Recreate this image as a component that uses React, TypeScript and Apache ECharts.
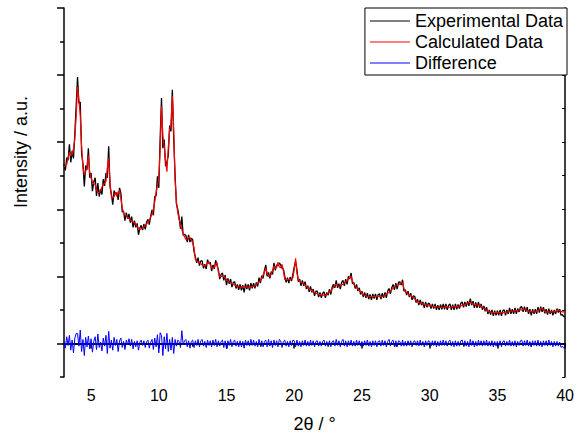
import React, { useEffect, useRef } from "react";
import * as echarts from "echarts";

// 2θ grid of the scan (degrees)
const TWO_THETA_START = 3.0;
const TWO_THETA_STEP = 0.1;

// Calculated profile, one row per degree (3.0–3.9, 4.0–4.9, …, 40.0)
const CALCULATED: number[] = [
  2.63, 2.65, 2.67, 2.76, 2.85, 2.8, 2.82, 2.9, 3.05, 3.4,
  3.82, 3.62, 3.4, 2.95, 2.62, 2.52, 2.56, 2.64, 2.8, 2.55,
  2.47, 2.4, 2.38, 2.37, 2.29, 2.25, 2.25, 2.28, 2.33, 2.37,
  2.39, 2.42, 2.62, 2.76, 2.4, 2.18, 2.17, 2.19, 2.25, 2.19,
  2.26, 2.28, 2.16, 2.02, 1.94, 1.92, 1.9, 1.88, 1.86, 1.84,
  1.83, 1.81, 1.8, 1.78, 1.75, 1.72, 1.7, 1.71, 1.72, 1.74,
  1.76, 1.78, 1.8, 1.84, 1.88, 1.93, 2.0, 2.11, 2.25, 2.36,
  2.46, 2.9, 3.54, 3.09, 2.94, 2.72, 2.56, 2.92, 3.19, 3.26,
  3.69, 3.2, 2.45, 2.12, 1.95, 1.85, 1.77, 1.7, 1.63, 1.59,
  1.55, 1.56, 1.58, 1.58, 1.54, 1.5, 1.43, 1.25, 1.23, 1.22,
  1.21, 1.19, 1.17, 1.16, 1.15, 1.17, 1.2, 1.22, 1.17, 1.13,
  1.12, 1.14, 1.18, 1.21, 1.06, 1.0, 1.0, 1.0, 1.0, 0.98,
  0.95, 0.93, 0.92, 0.9, 0.89, 0.88, 0.87, 0.86, 0.85, 0.85,
  0.84, 0.84, 0.84, 0.83, 0.84, 0.84, 0.84, 0.83, 0.84, 0.85,
  0.85, 0.86, 0.88, 0.9, 0.92, 0.93, 0.97, 1.02, 1.06, 1.12,
  1.05, 1.0, 1.01, 1.03, 1.09, 1.15, 1.12, 1.13, 1.21, 1.14,
  1.13, 1.18, 1.08, 0.95, 0.95, 0.95, 0.95, 0.95, 0.96, 0.98,
  1.1, 1.27, 1.05, 0.96, 0.93, 0.91, 0.9, 0.89, 0.87, 0.85,
  0.83, 0.81, 0.8, 0.79, 0.77, 0.76, 0.75, 0.74, 0.73, 0.73,
  0.72, 0.72, 0.72, 0.72, 0.73, 0.75, 0.77, 0.78, 0.81, 0.84,
  0.87, 0.88, 0.86, 0.85, 0.86, 0.88, 0.88, 0.9, 0.92, 0.93,
  0.96, 0.99, 1.0, 0.93, 0.88, 0.86, 0.83, 0.81, 0.79, 0.77,
  0.75, 0.73, 0.72, 0.71, 0.7, 0.7, 0.7, 0.7, 0.7, 0.7,
  0.7, 0.7, 0.7, 0.7, 0.7, 0.7, 0.71, 0.72, 0.73, 0.75,
  0.76, 0.78, 0.8, 0.83, 0.85, 0.86, 0.86, 0.87, 0.89, 0.91,
  0.9, 0.82, 0.77, 0.76, 0.74, 0.72, 0.71, 0.7, 0.68, 0.66,
  0.64, 0.62, 0.61, 0.6, 0.6, 0.59, 0.58, 0.58, 0.57, 0.56,
  0.56, 0.56, 0.55, 0.55, 0.55, 0.55, 0.54, 0.54, 0.54, 0.54,
  0.54, 0.54, 0.55, 0.54, 0.54, 0.54, 0.54, 0.55, 0.55, 0.55,
  0.55, 0.55, 0.56, 0.56, 0.57, 0.57, 0.58, 0.59, 0.6, 0.61,
  0.61, 0.6, 0.59, 0.58, 0.58, 0.57, 0.57, 0.56, 0.55, 0.54,
  0.52, 0.51, 0.49, 0.48, 0.47, 0.47, 0.46, 0.46, 0.46, 0.46,
  0.46, 0.46, 0.46, 0.46, 0.46, 0.46, 0.46, 0.47, 0.47, 0.48,
  0.48, 0.48, 0.48, 0.49, 0.49, 0.49, 0.5, 0.5, 0.5, 0.51,
  0.51, 0.5, 0.49, 0.48, 0.48, 0.47, 0.47, 0.47, 0.47, 0.48,
  0.49, 0.5, 0.52, 0.52, 0.5, 0.48, 0.47, 0.47, 0.47, 0.47,
  0.47, 0.47, 0.47, 0.48, 0.49, 0.5, 0.49, 0.48, 0.47, 0.47,
  0.46,
];

// Observed minus calculated, same grid
const DIFFERENCE: number[] = [
  0.04, -0.07, 0.1, -0.03, 0.12, -0.1, 0.05, -0.14, 0.08, 0.15,
  0.15, -0.04, 0.2, -0.12, 0.06, -0.18, 0.09, -0.05, 0.11, -0.08,
  0.07, -0.13, 0.03, 0.1, -0.09, 0.14, -0.06, 0.02, -0.11, 0.08,
  -0.04, 0.12, -0.15, 0.18, -0.07, 0.05, -0.1, 0.09, -0.03, 0.06,
  -0.12, 0.04, 0.08, -0.06, 0.03, -0.09, 0.05, -0.02, 0.07, -0.04,
  0.06, -0.08, 0.03, -0.05, 0.04, -0.1, 0.02, 0.05, -0.03, 0.04,
  -0.06, 0.03, 0.05, -0.07, 0.02, 0.06, -0.09, 0.08, -0.05, 0.13,
  -0.14, 0.16, 0.12, -0.18, 0.1, -0.08, 0.15, -0.12, 0.06, -0.1,
  0.09, -0.15, 0.06, -0.04, 0.05, 0.03, -0.06, 0.19, -0.02, 0.04,
  0.06, -0.05, 0.04, -0.07, 0.03, 0.05, -0.06, 0.04, -0.03, 0.06,
  -0.05, 0.04, 0.06, -0.04, 0.03, -0.06, 0.05, -0.03, 0.04, -0.05,
  0.05, -0.03, 0.06, -0.05, 0.04, -0.04, 0.03, 0.05, -0.06, 0.04,
  -0.08, 0.04, -0.03, 0.06, -0.05, 0.03, 0.05, -0.04, 0.03, -0.05,
  0.04, -0.05, 0.03, -0.07, 0.05, -0.03, 0.04, -0.04, 0.06, -0.03,
  0.05, -0.04, 0.03, -0.05, 0.06, -0.03, 0.04, -0.05, 0.03, 0.05,
  -0.05, 0.06, -0.04, 0.04, -0.06, 0.05, -0.03, 0.04, -0.05, 0.06,
  0.04, -0.06, 0.03, 0.05, -0.04, 0.03, -0.05, 0.04, -0.03, 0.05,
  0.04, -0.05, 0.05, -0.04, 0.03, -0.05, 0.04, -0.03, 0.05, -0.04,
  0.03, -0.04, 0.05, -0.03, 0.04, -0.05, 0.03, 0.04, -0.04, 0.03,
  -0.04, 0.03, 0.05, -0.04, 0.03, -0.03, 0.04, -0.05, 0.03, 0.04,
  -0.04, 0.06, -0.03, 0.04, -0.05, 0.03, 0.06, -0.04, 0.04, -0.05,
  0.04, -0.03, 0.05, -0.04, 0.03, -0.04, 0.05, -0.03, 0.04, -0.04,
  0.03, -0.04, 0.04, -0.03, 0.05, -0.04, 0.03, -0.05, 0.04, -0.03,
  0.04, -0.05, 0.03, 0.04, -0.04, 0.05, -0.03, 0.04, -0.05, 0.03,
  0.06, -0.04, 0.03, 0.05, -0.05, 0.04, -0.05, 0.04, 0.03, -0.04,
  0.05, -0.04, 0.03, -0.04, 0.04, -0.03, 0.04, -0.05, 0.03, 0.04,
  -0.03, 0.04, -0.04, 0.05, -0.03, 0.03, -0.05, 0.04, -0.03, 0.04,
  0.03, -0.04, 0.04, -0.03, 0.04, -0.05, 0.03, -0.04, 0.04, -0.03,
  0.05, -0.03, 0.04, -0.04, 0.03, 0.05, -0.04, 0.03, -0.05, 0.04,
  -0.04, 0.03, -0.04, 0.04, 0.05, -0.03, 0.04, -0.04, 0.03, -0.05,
  0.06, -0.03, 0.04, -0.05, 0.03, -0.04, 0.05, -0.03, 0.04, -0.04,
  0.04, -0.03, 0.05, -0.04, 0.03, -0.04, 0.04, -0.05, 0.03, -0.04,
  0.03, -0.04, 0.04, -0.05, 0.03, 0.04, -0.04, 0.03, -0.03, 0.05,
  -0.04, 0.03, -0.04, 0.04, -0.05, 0.03, -0.03, 0.04, 0.05, -0.04,
  0.04, -0.03, 0.05, -0.04, 0.03, -0.05, 0.04, -0.03, 0.04, -0.04,
  0.05, -0.04, 0.03, -0.05, 0.04, -0.03, 0.04, -0.04, 0.05, -0.03,
  0.03, -0.05, 0.03, -0.04, 0.03, -0.04, 0.02, -0.06, -0.04, -0.07,
  -0.06,
];

const X_LABELS = [5, 10, 15, 20, 25, 30, 35, 40];
const X_MINOR = [7.5, 12.5, 17.5, 22.5, 27.5, 32.5, 37.5];
const Y_MAJOR = [0, 1, 2, 3, 4, 5];
const Y_MINOR = [-0.5, 0.5, 1.5, 2.5, 3.5, 4.5];

const SERIES_NAMES = ["Experimental Data", "Calculated Data", "Difference"];
const SERIES_COLORS = ["#000000", "#ff0000", "#0000ff"];

const FONT = 'Arial, "Liberation Sans", Helvetica, sans-serif';

export default function App() {
  const ref = useRef<HTMLDivElement>(null);

  useEffect(() => {
    if (!ref.current) return;
    const chart = echarts.init(ref.current, undefined, { renderer: "svg" });

    const twoTheta = CALCULATED.map(
      (_, i) => +(TWO_THETA_START + i * TWO_THETA_STEP).toFixed(2)
    );
    const calc = CALCULATED.map((v, i) => [twoTheta[i], v]);
    // observed = calculated + difference
    const obs = CALCULATED.map((v, i) => [twoTheta[i], +(v + DIFFERENCE[i]).toFixed(3)]);
    const diff = DIFFERENCE.map((v, i) => [twoTheta[i], v]);

    const axisLine = { show: true, lineStyle: { color: "#000", width: 1.5 } };
    const noSplit = { show: false };

    const allX = [...X_LABELS, ...X_MINOR].sort((a, b) => a - b);
    const allY = [...Y_MINOR, ...Y_MAJOR].sort((a, b) => a - b);

    chart.setOption({
      animation: false,
      backgroundColor: "#ffffff",
      textStyle: { fontFamily: FONT, color: "#000" },
      grid: { left: 64, right: 10, top: 8, bottom: 64, containLabel: false },
      legend: {
        data: SERIES_NAMES,
        orient: "vertical",
        right: 10,
        top: 8,
        padding: [4, 4, 3, 5],
        itemGap: 3,
        itemWidth: 40,
        itemHeight: 1.2,
        icon: "rect",
        borderColor: "#000",
        borderWidth: 1,
        borderRadius: 0,
        backgroundColor: "#fff",
        textStyle: { fontSize: 18, fontFamily: FONT, color: "#000" },
      },
      xAxis: [
        {
          type: "value",
          position: "bottom",
          min: 3,
          max: 40,
          axisLine,
          axisTick: { show: true, inside: false, length: 5, customValues: X_LABELS, lineStyle: { color: "#000", width: 1.5 } },
          axisLabel: { show: true, customValues: X_LABELS, fontSize: 16, margin: 10, color: "#000", fontFamily: FONT },
          splitLine: noSplit,
          name: "2θ / °",
          nameLocation: "middle",
          nameGap: 38,
          nameTextStyle: { fontSize: 18, fontFamily: FONT, color: "#000" },
        },
        {
          type: "value",
          position: "bottom",
          min: 3,
          max: 40,
          axisLine: { show: false },
          axisTick: { show: true, inside: false, length: 3, customValues: X_MINOR, lineStyle: { color: "#000", width: 1.5 } },
          axisLabel: { show: false, customValues: X_MINOR },
          splitLine: noSplit,
        },
        {
          type: "value",
          position: "top",
          min: 3,
          max: 40,
          axisLine,
          axisTick: { show: true, inside: true, length: 3, customValues: allX, lineStyle: { color: "#000", width: 1 } },
          axisLabel: { show: false, customValues: allX },
          splitLine: noSplit,
        },
      ],
      yAxis: [
        {
          type: "value",
          position: "left",
          min: -0.5,
          max: 5,
          axisLine,
          axisTick: { show: true, inside: false, length: 7, customValues: Y_MAJOR, lineStyle: { color: "#000", width: 1.5 } },
          axisLabel: { show: false, customValues: Y_MAJOR },
          splitLine: noSplit,
        },
        {
          type: "value",
          position: "left",
          min: -0.5,
          max: 5,
          axisLine: { show: false },
          axisTick: { show: true, inside: false, length: 4, customValues: Y_MINOR, lineStyle: { color: "#000", width: 1.5 } },
          axisLabel: { show: false, customValues: Y_MINOR },
          splitLine: noSplit,
        },
        {
          type: "value",
          position: "right",
          min: -0.5,
          max: 5,
          axisLine,
          axisTick: { show: true, inside: true, length: 3, customValues: allY, lineStyle: { color: "#000", width: 1 } },
          axisLabel: { show: false, customValues: allY },
          splitLine: noSplit,
        },
      ],
      graphic: [
        {
          type: "text",
          x: 21,
          y: 152,
          rotation: Math.PI / 2,
          style: {
            text: "Intensity / a.u.",
            fontSize: 18,
            fontFamily: FONT,
            fill: "#000",
            align: "center",
            verticalAlign: "middle",
          },
        },
      ],
      series: [
        {
          name: SERIES_NAMES[0],
          type: "line",
          data: obs,
          xAxisIndex: 0,
          yAxisIndex: 0,
          symbol: "none",
          color: SERIES_COLORS[0],
          lineStyle: { color: SERIES_COLORS[0], width: 1.3 },
          z: 2,
        },
        {
          name: SERIES_NAMES[1],
          type: "line",
          data: calc,
          xAxisIndex: 0,
          yAxisIndex: 0,
          symbol: "none",
          color: SERIES_COLORS[1],
          lineStyle: { color: SERIES_COLORS[1], width: 1.2 },
          z: 3,
        },
        {
          name: SERIES_NAMES[2],
          type: "line",
          data: diff,
          xAxisIndex: 0,
          yAxisIndex: 0,
          symbol: "none",
          color: SERIES_COLORS[2],
          lineStyle: { color: SERIES_COLORS[2], width: 1 },
          z: 2,
        },
      ],
    });

    return () => chart.dispose();
  }, []);

  return (
    <div
      ref={ref}
      style={{ position: "fixed", left: 0, top: 0, width: 577, height: 441 }}
    />
  );
}
